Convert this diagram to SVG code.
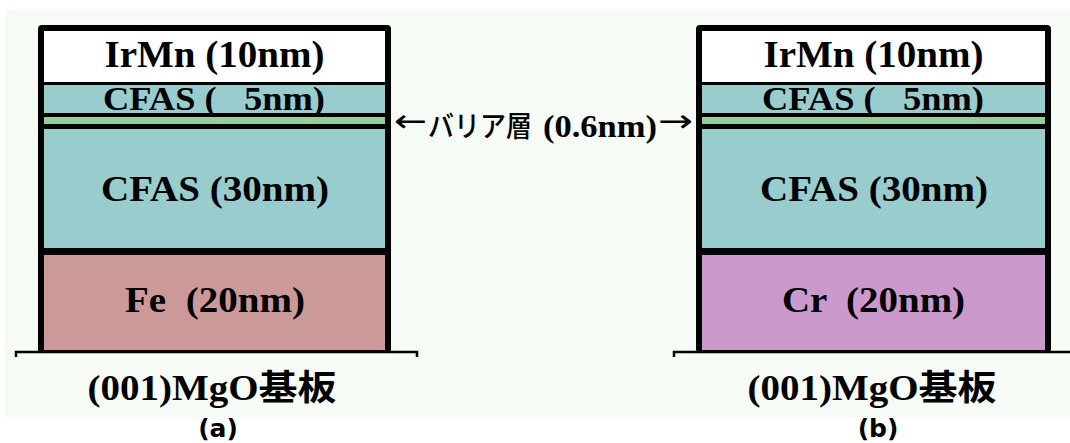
<svg xmlns="http://www.w3.org/2000/svg" width="1070" height="443" viewBox="0 0 1070 443">
<style>
.s{font-family:"Liberation Serif","Noto Serif CJK JP","Noto Sans CJK JP",serif;font-weight:bold;fill:#000;text-anchor:middle}
.j{font-family:"Noto Sans CJK JP",sans-serif;font-weight:bold}
.jn{font-family:"Noto Sans CJK JP",sans-serif;font-weight:500;fill:#000}
.ar{font-family:"DejaVu Sans",sans-serif;fill:#000}
.lab{font-family:"DejaVu Sans",sans-serif;font-weight:bold;font-size:25px;text-anchor:middle;fill:#000}
.blk{fill:#000}
.teal{fill:#99cccc}
.grn{fill:#99cc99}
</style>
<rect x="0" y="0" width="1070" height="443" fill="#ffffff"/>
<rect x="5" y="10" width="1065" height="407" fill="#f6fbf6"/>

<g id="stack-a">
  <rect x="38" y="25" width="353" height="328" rx="4" class="blk"/>
  <rect x="44" y="31" width="341" height="51" fill="#ffffff"/>
  <rect x="44" y="85" width="341" height="28" class="teal"/>
  <rect x="44" y="117" width="341" height="7" class="grn"/>
  <rect x="44" y="129" width="341" height="119" class="teal"/>
  <rect x="44" y="255" width="341" height="95" fill="#cc9999"/>
  <text class="s" x="214.5" y="67" font-size="37" textLength="220" lengthAdjust="spacingAndGlyphs">IrMn (10nm)</text>
  <text class="s" x="214" y="110" font-size="33" textLength="222" lengthAdjust="spacingAndGlyphs" xml:space="preserve">CFAS (   5nm)</text>
  <text class="s" x="215" y="201" font-size="35" textLength="228" lengthAdjust="spacingAndGlyphs">CFAS (30nm)</text>
  <text class="s" x="215" y="312" font-size="35" textLength="180" lengthAdjust="spacingAndGlyphs" xml:space="preserve">Fe  (20nm)</text>
</g>
<g id="substrate-a">
  <path d="M16 357 V352 H417 V357" fill="none" stroke="#000" stroke-width="2.5"/>
  <text class="s" x="212" y="400" font-size="35" textLength="249" lengthAdjust="spacingAndGlyphs">(001)MgO<tspan class="j">基板</tspan></text>
  <text class="lab" x="218" y="437">(a)</text>
</g>

<g id="stack-b">
  <rect x="696" y="25" width="355" height="328" rx="4" class="blk"/>
  <rect x="702" y="31" width="343" height="51" fill="#ffffff"/>
  <rect x="702" y="85" width="343" height="28" class="teal"/>
  <rect x="702" y="117" width="343" height="7" class="grn"/>
  <rect x="702" y="129" width="343" height="119" class="teal"/>
  <rect x="702" y="255" width="343" height="95" fill="#cc99cc"/>
  <text class="s" x="873.5" y="67" font-size="37" textLength="220" lengthAdjust="spacingAndGlyphs">IrMn (10nm)</text>
  <text class="s" x="873" y="110" font-size="33" textLength="222" lengthAdjust="spacingAndGlyphs" xml:space="preserve">CFAS (   5nm)</text>
  <text class="s" x="874" y="201" font-size="35" textLength="228" lengthAdjust="spacingAndGlyphs">CFAS (30nm)</text>
  <text class="s" x="873.5" y="312" font-size="35" textLength="183" lengthAdjust="spacingAndGlyphs" xml:space="preserve">Cr  (20nm)</text>
</g>
<g id="substrate-b">
  <path d="M674 357 V352 H1070" fill="none" stroke="#000" stroke-width="2.5"/>
  <text class="s" x="872" y="400" font-size="35" textLength="249" lengthAdjust="spacingAndGlyphs">(001)MgO<tspan class="j">基板</tspan></text>
  <text class="lab" x="878" y="437">(b)</text>
</g>

<g id="connectors">
  <text x="394" y="132" font-size="32" class="ar" textLength="33" lengthAdjust="spacingAndGlyphs">←</text>
  <text x="428" y="137" font-size="29" class="jn" textLength="104" lengthAdjust="spacingAndGlyphs">バリア層</text>
  <text x="600" y="137" font-size="32" class="s" textLength="114" lengthAdjust="spacingAndGlyphs">(0.6nm)</text>
  <text x="658" y="132" font-size="32" class="ar" textLength="35" lengthAdjust="spacingAndGlyphs">→</text>
</g>
</svg>
